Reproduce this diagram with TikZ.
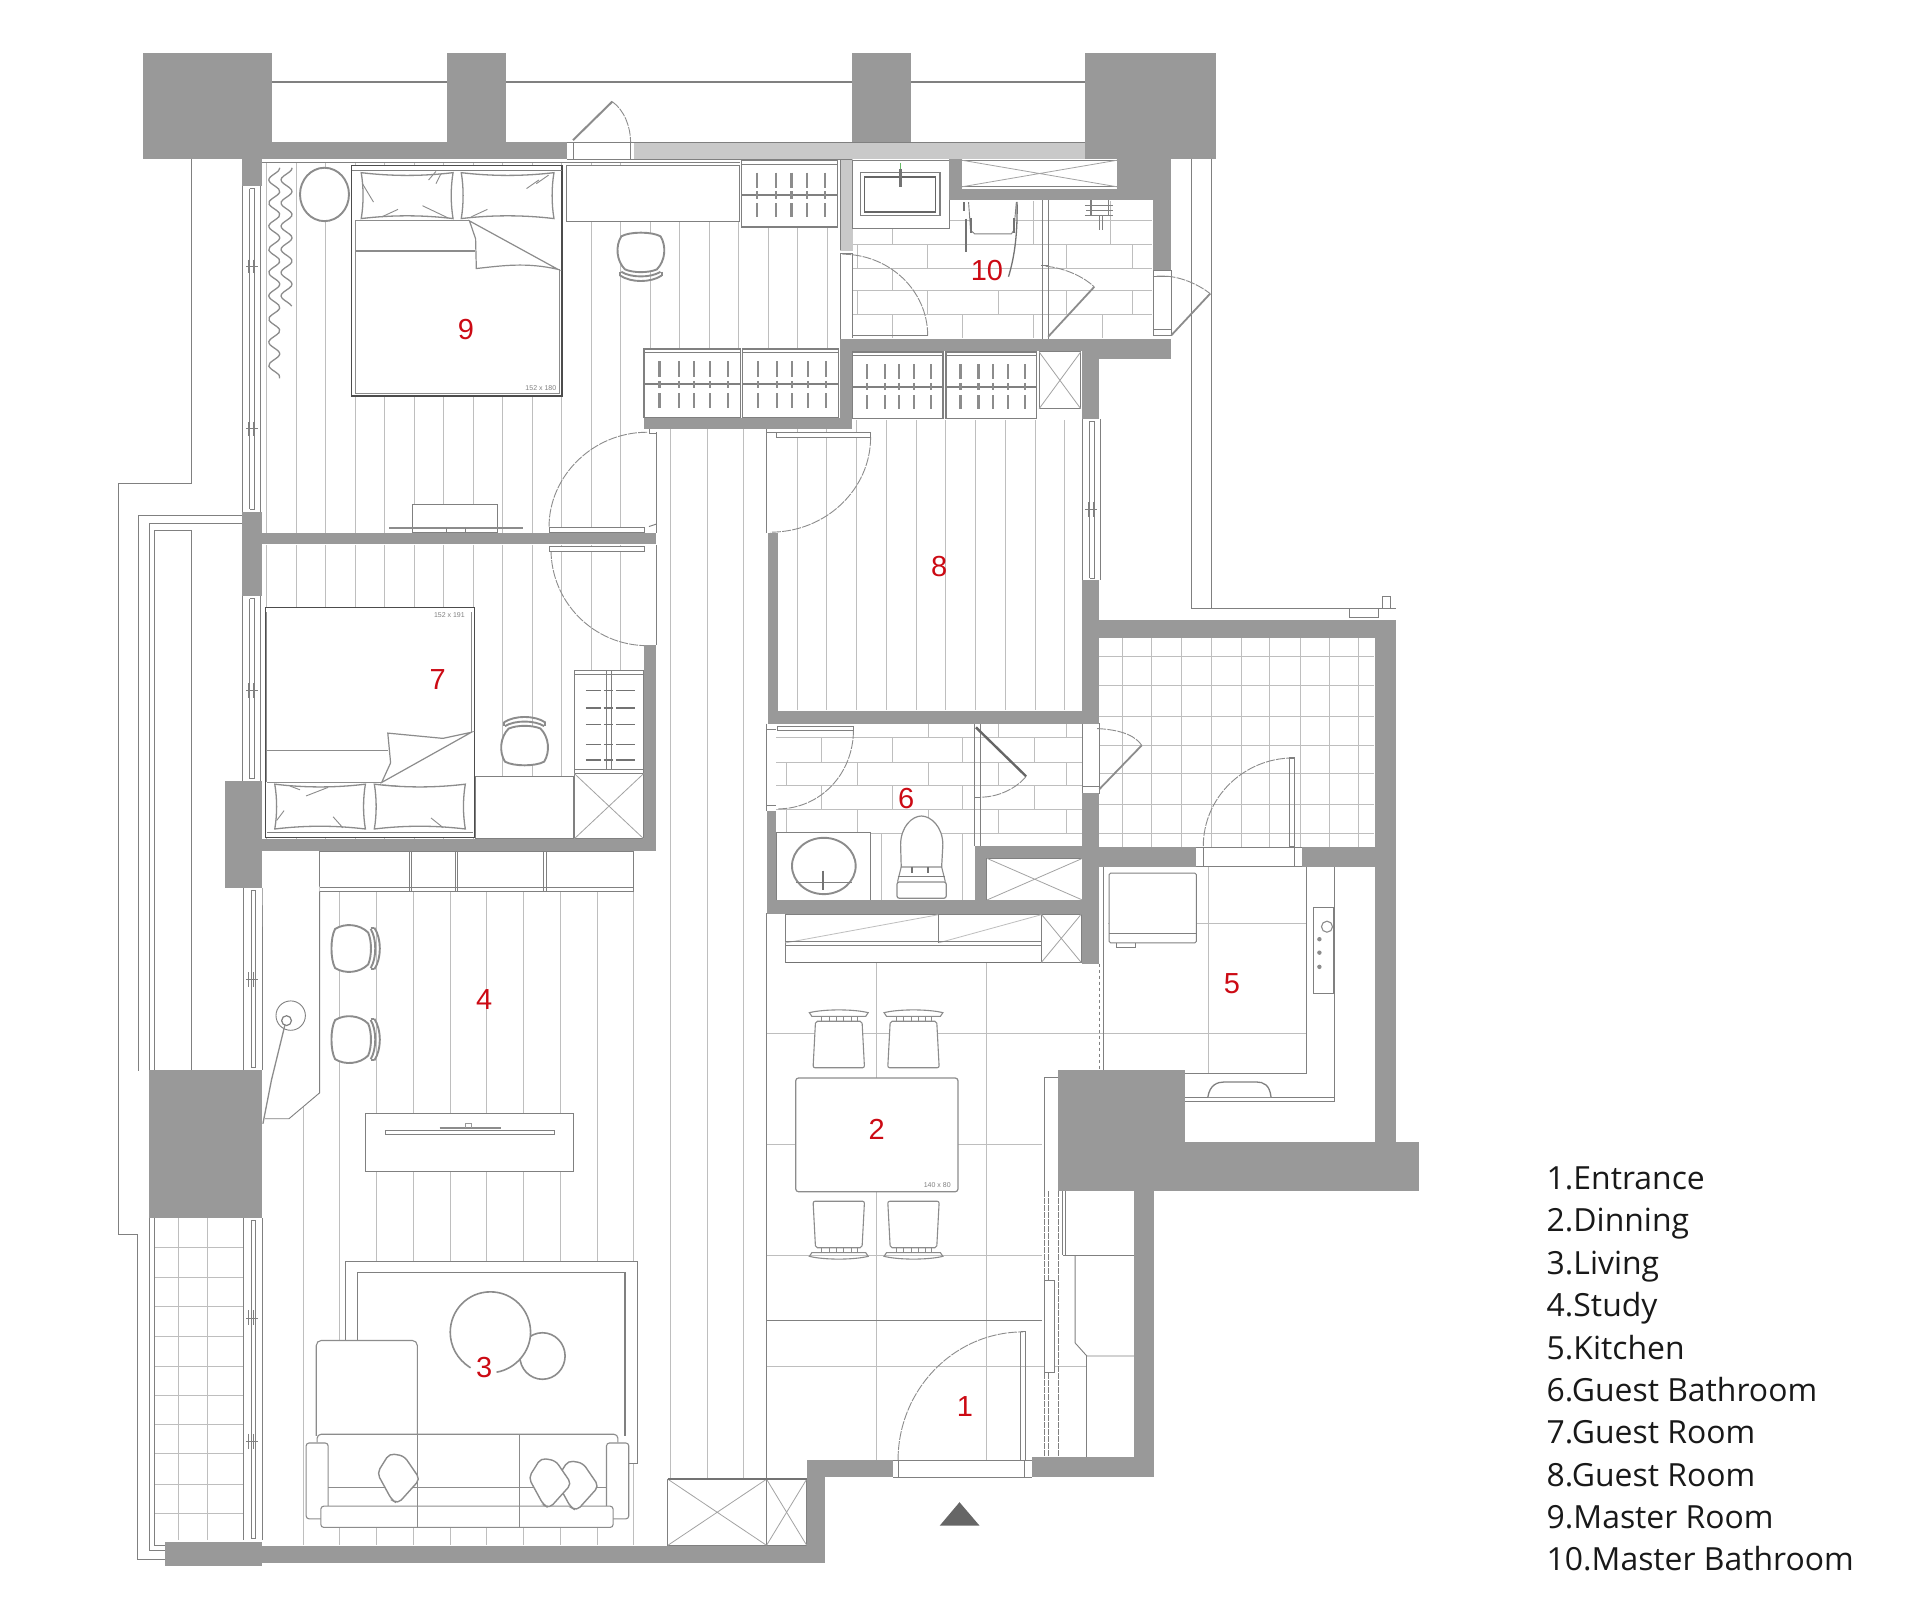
\documentclass[tikz,border=0pt]{standalone}
\usepackage{fontspec}
\setmainfont{Liberation Sans}
\newfontfamily\legendfont{Open Sans}
\definecolor{wallc}{HTML}{999999}
\definecolor{lightwall}{HTML}{C9C9C9}
\definecolor{lnc}{HTML}{808080}
\definecolor{flrc}{HTML}{BEBEBE}
\definecolor{furnc}{HTML}{8C8C8C}
\definecolor{numc}{HTML}{CC0A14}
\tikzset{
 wallfill/.style={fill=wallc},
 ln/.style={draw=lnc,line width=.9pt},
 dk/.style={draw=black!70,line width=1.1pt},
 thin2/.style={draw=lnc!80,line width=.7pt},
 flr/.style={draw=flrc,line width=.8pt},
 furn/.style={draw=furnc,line width=1.1pt},
 thick2/.style={draw=furnc,line width=1.9pt},
 xln/.style={draw=furnc!80,line width=.8pt},
 swingln/.style={draw=furnc,line width=.9pt,dash pattern=on 9pt off 1.2pt},
 hang/.style={draw=black!50,line width=2pt},
 barln/.style={draw=black!45,line width=2.2pt},
 num/.style={text=numc,font=\fontsize{29}{29}\selectfont,inner sep=0pt},
 legend/.style={anchor=base west,inner sep=0pt,text=black!90,font=\legendfont\fontsize{31.9}{35}\selectfont},
 tiny/.style={text=black!50,font=\fontsize{7}{7}\selectfont,inner sep=0pt},
 chairpic/.pic={
  \draw[thick2,fill=white] (-16,-14) .. controls (-9,-18) and (9,-18) .. (16,-14) .. controls (21,-6) and (20,6) .. (13,13) .. controls (6,16) and (-6,16) .. (-13,13) .. controls (-20,6) and (-21,-6) .. (-16,-14) -- cycle;
  \draw[thick2] (-16,15) .. controls (-8,20) and (8,20) .. (16,15);
  \draw[thick2] (-17,18) .. controls (-8,24) and (8,24) .. (17,18);
  \draw[thick2] (-17,15)--(-17,18) (17,15)--(17,18);
 },
 dinechair/.pic={
  \draw[furn,fill=white,rounded corners=2pt] (-19,-19) -- (19,-19) -- (21,19) -- (-21,19) -- cycle;
  \draw[furn] (-24,-26) .. controls (-12,-29) and (12,-29) .. (24,-26) -- (22,-23) -- (-22,-23) -- cycle;
  \foreach \q in {-14,-8,-2,4,10,15} {\draw[furn,line width=.8pt] (\q,-23) -- (\q,-18);}
 },
 sofapillow/.pic={
  \draw[thick2,line width=1.4pt,fill=white,rounded corners=5pt] (-17,-4) -- (-7,-20) -- (5,-18) -- (18,1) -- (0,21) -- (-5,18) -- cycle;
 }
}
\newcommand{\wallbox}[4]{\fill[wallfill] (#1,#2) rectangle (#3,#4);}
\newcommand{\xbox}[4]{\draw[ln,fill=white] (#1,#2) rectangle (#3,#4); \draw[xln] (#1,#2)--(#3,#4) (#1,#4)--(#3,#2);}
\newcommand{\wardrobe}[4]{%
 \draw[ln,fill=white,line width=1.3pt] (#1,#2) rectangle (#3,#4);
 \draw[ln] (#1,#2+3) -- (#3,#2+3);
 \pgfmathsetmacro{\wmid}{(#2+#4)/2+1}
 \draw[hang] (#1,\wmid)--(#3,\wmid);
 \foreach \wf in {.16,.36,.52,.68,.87} {
  \pgfmathsetmacro{\wxx}{#1+\wf*(#3-#1)}
  \draw[barln] (\wxx,#2+10)--(\wxx,\wmid-6) (\wxx,\wmid-3)--(\wxx,\wmid+3) (\wxx,\wmid+7)--(\wxx,#4-8);
 }}
\newcommand{\pillow}[4]{%
 \draw[thick2,line width=1.3pt,fill=white] (#1,#2) .. controls (#1+25,#2+3) and (#3-25,#2+3) .. (#3,#2) .. controls (#3-2,#2+12) and (#3-2,#4-12) .. (#3,#4) .. controls (#3-25,#4-3) and (#1+25,#4-3) .. (#1,#4) .. controls (#1+2,#4-12) and (#1+2,#2+12) .. (#1,#2) -- cycle;}
\begin{document}
\begin{tikzpicture}[x=1.2245pt,y=-1.2245pt]
\useasboundingbox (0,0) rectangle (1568,1318.1);
\fill[white] (0,0) rectangle (1568,1318.1);

% --- floor boards
\foreach \k in {0,...,12} {\draw[flr] ({217.7+24.1*\k},133)--({217.7+24.1*\k},435);
  \draw[flr] ({217.7+24.1*\k},445)--({217.7+24.1*\k},685);}
\foreach \k in {13,...,19} {\draw[flr] ({217.7+24.1*\k},181)--({217.7+24.1*\k},285);}
\foreach \k in {1,...,10} {\draw[flr] ({626.6+24.3*\k},343)--({626.6+24.3*\k},580);}
\draw[flr] (247.5,895)--(247.5,1262);
\foreach \k in {1,...,9} {\draw[flr] ({247.5+30*\k},728)--({247.5+30*\k},1262);}
\foreach \k in {10,11,12} {\draw[flr] ({247.5+30*\k},350)--({247.5+30*\k},1262);}
\draw[ln] (626,746)--(626,1262);

% --- tiles: dining / kitchen
\draw[flr] (715.4,786)--(715.4,1192) (805.5,786)--(805.5,1192) (626,843.7)--(1067,843.7)
 (626,934.7)--(851,934.7) (626,1025)--(851,1025) (626,1115.8)--(888,1115.8) (987,708)--(987,877) (905,754)--(1067,754);
\draw[ln] (626,1078)--(851,1078);
% --- tiles: balcony
\foreach \q in {917,940.4,964.5,989,1013.4,1037,1062,1085.5,1109} {\draw[flr] (\q,521)--(\q,692);}
\foreach \q in {536,560,585,608.7,632,657,681} {\draw[flr] (897,\q)--(1122,\q);}
% --- tiles: master bath
\foreach \q in {180,199.7,219.3,237,256.6} {\draw[flr] (696,\q)--(941,\q);}
\foreach \q/\ya/\yb in {729/180/199.7,844/164/199.7,757.6/199.7/219.3,907/164/199.7,871/199.7/219.3,925/199.7/219.3,729/219.3/237,757.6/237/256.6,815/237/256.6,871/237/256.6,925/237/256.6,729/256.6/276,786/256.6/276,844/256.6/276,900/256.6/276,700/237/256.6,700/199.7/219.3} {\draw[flr] (\q,\ya)--(\q,\yb);}
% --- tiles: guest bath
\foreach \q in {602.3,622.7,641.6,661,681} {\draw[flr] (634,\q)--(884,\q);}
\foreach \q/\ya/\yb in {671/602.3/622.7,729/602.3/622.7,786/602.3/622.7,845/602.3/622.7,642/622.7/641.6,700/622.7/641.6,758/622.7/641.6,815/622.7/641.6,871/622.7/641.6,671/641.6/661,729/641.6/661,786/641.6/661,845/641.6/661,642/661/681,700/661/681,758/661/681,815/661/681,871/661/681,758/591/602.3,815/591/602.3,871/591/602.3,720/681/735,786/681/735} {\draw[flr] (\q,\ya)--(\q,\yb);}
% --- tiles: service balcony lower left
\foreach \q in {1018.7,1043,1067,1091,1116,1139.5,1163.5,1187,1212,1236} {\draw[flr] (126,\q)--(199,\q);}
\draw[flr] (145.3,995)--(145.3,1258) (169.6,995)--(169.6,1258);

% --- outer balcony outlines
\draw[ln] (156.7,130)--(156.7,395)--(96.7,395)--(96.7,1008)--(112,1008);
\draw[ln] (112,1008)--(112,1273.6)--(135,1273.6);
\draw[ln] (198,421)--(113.4,421)--(113.4,875);
\draw[ln] (198,427.6)--(121.7,427.6)--(121.7,875);
\draw[ln] (156.7,875)--(156.7,433.4)--(126,433.4)--(126,875);
\draw[ln] (122,995)--(122,1266)--(135,1266);
\draw[ln] (126,995)--(126,1262)--(135,1262);
% --- railing at the top
\draw[lnc,line width=2pt] (222,66.7)--(365,66.7) (413,66.7)--(696,66.7) (744,66.7)--(886,66.7);
\draw[ln] (213,133)--(604,133);
% --- right side parallel lines
\draw[ln] (972.6,130)--(972.6,497.3)--(1102,497.3);
\draw[ln] (989.3,130)--(989.3,497.3);
\draw[ln] (1102,497.3)--(1102,504.6) (1125.6,497.3)--(1125.6,504.6) (1102,504.6)--(1125.6,504.6);
\draw[ln] (1102,497.3)--(1140,497.3);
\draw[ln] (1129,497.3)--(1129,487)--(1135.8,487)--(1135.8,497.3);

% --- windows
\newcommand{\winV}[3]{%
 \draw[ln] (#1,#2)--(#1,#3) (#1+15,#2)--(#1+15,#3) (#1+6,#2+2)--(#1+6,#3-2) (#1+10,#2+2)--(#1+10,#3-2) (#1+6,#2+2)--(#1+10,#2+2) (#1+6,#3-2)--(#1+10,#3-2);}
\winV{198}{152}{418}
\draw[ln] (201,217.4)--(211,217.4) (201,350)--(211,350);
\draw[ln] (203,212)--(203,223) (207,212)--(207,223) (203,345)--(203,356) (207,345)--(207,356);
\winV{198}{487}{638}
\draw[ln] (201,564)--(211,564) (203,558)--(203,570) (207,558)--(207,570);
\winV{199}{725}{874}
\draw[ln] (201,800)--(211,800) (203,794)--(203,806) (207,794)--(207,806);
\winV{199}{995}{1258}
\draw[ln] (201,1076.4)--(211,1076.4) (201,1177)--(211,1177) (203,1070)--(203,1082) (207,1070)--(207,1082) (203,1171)--(203,1183) (207,1171)--(207,1183);
\winV{884}{342}{474}
\draw[ln] (886,416)--(896,416) (889,410)--(889,422) (893,410)--(893,422);

% --- master room furniture
\foreach \colx/\yend in {224/309,234/250} {
 \draw[furn,line width=1.3pt] plot[smooth,samples=70,domain=137:\yend] ({\colx+4.5*sin(\x*19)},\x);}
\draw[thick2,fill=white] (265,158.8) ellipse (20 and 21.8);
\draw[dk,fill=white] (287.4,134.9) rectangle (459,323.4);
\draw[ln] (287.4,139) -- (459,139);
\draw[furn] (290,180)--(290,321.5)--(456.7,321.5)--(456.7,220);
\draw[furn] (290,180)--(383.4,180);
\draw[furn] (290,205)--(388,205);
\pillow{295}{141}{370}{178.5}
\pillow{376.7}{141}{452.4}{178.5}
\draw[furn,line width=.9pt] (350,147)--(356,140) (356,150)--(360,142) (296,150)--(305,165) (345,168)--(366,178) (312,177)--(325,171) (440,147)--(430,154) (448,143)--(438,150) (385,177)--(398,171);
\draw[thick2,fill=white,line width=1.2pt] (383.4,180.4)--(388.4,195)--(389,219.3) .. controls (410,217) and (430,214) .. (455.7,220)--cycle;
\node[tiny] (bedsizeA) at (441.7,317) {152 x 180};
\draw[ln,fill=white] (462.7,135) rectangle (604,181);
\pic at (523.4,207) {chairpic};
\wardrobe{605.5}{131}{684}{185.3}
\draw[lightwall,fill=lightwall] (686,130) rectangle (696,204.3);
\draw[ln] (686,130)--(686,204.3);
% TV desk in master room
\draw[ln,fill=white] (337,412) rectangle (406,435);
\draw[thick2,line width=2pt] (318,431)--(427,431);
\draw[ln] (365,431)--(365,435) (380,431)--(380,435);
% door room 9
\draw[swingln] (528.4,353) .. controls (484,353) and (448.4,389) .. (448.4,430);
\draw[ln,fill=white] (448.4,430.5) rectangle (526,435);
\draw[ln] (535.7,353)--(535.7,435) (530,350)--(530,354)--(535.7,354);
\draw[ln] (530,430)--(536,428);

% --- wardrobes master row
\wardrobe{526}{285}{605}{341}
\wardrobe{606.5}{285}{684.5}{341}
\wardrobe{696}{287.4}{770}{342}
\wardrobe{772.5}{287.4}{846.6}{342}
\xbox{848.6}{287.4}{882.6}{333.8}

% --- guest room 7 furniture
\draw[dk,fill=white] (216.7,496) rectangle (387.7,684);
\draw[furn] (218,612.7)--(316.7,612.7) (218,639)--(311.7,639) (218,500)--(218,639) (385,500)--(385,598);
\draw[thick2,fill=white,line width=1.2pt] (311.7,639)--(385,598)--(361.7,603)--(316.7,598.7)--(319,623)--cycle;
\draw[ln] (218,680)--(386,680);
\pillow{224.4}{640.4}{298.4}{677}
\pillow{305.7}{640.4}{380}{677}
\draw[furn,line width=.9pt] (237,642)--(245,645) (250,650)--(268,643) (226,670)--(232,662) (272,667)--(280,676) (325,642)--(312,641) (352,668)--(362,676);
\node[tiny] (bedsizeB) at (367,502) {152 x 191};
\draw[ln,fill=white] (388.4,633.7) rectangle (468.4,685);
\pic[rotate=180] at (428.4,608) {chairpic};
\draw[ln,fill=white] (469,547.7) rectangle (525.7,631.7);
\draw[ln] (469,551)--(525.7,551) (469,628)--(525.7,628);
\draw[ln] (495.6,548)--(495.6,628) (499,548)--(499,628);
\foreach \q/\wd in {564/1.1,578/1.9,591.5/1.1,608/1.1,620.6/1.9} {
 \draw[draw=black!55,line width=\wd pt] (478.4,\q)--(491,\q) (493,\q)--(501,\q) (503,\q)--(518.4,\q);}
\xbox{469}{631.7}{525.7}{685}
% door room 7
\draw[swingln] (450,449) .. controls (450,491) and (484,527) .. (528.4,527.3);
\draw[ln,fill=white] (448.4,446) rectangle (526,450.5);
\draw[ln] (535.7,445)--(535.7,527);

% --- study and living furniture
\draw[ln,fill=white] (261,695) rectangle (517.7,728);
\draw[ln] (334,695)--(334,728) (336,695)--(336,728) (371.7,695)--(371.7,728) (373.5,695)--(373.5,728) (444,695)--(444,728) (446,695)--(446,728) (261,725)--(517.7,725);
\fill[white] (214.4,724)--(261,724)--(261,892.5)--(236,913.6)--(216.6,913.6)--cycle;
\draw[ln] (261,728)--(261,892.5)--(236,913.6)--(216.6,913.6);
\pic[rotate=90] at (287.7,774.6) {chairpic};
\pic[rotate=90] at (287.7,849) {chairpic};
\draw[ln] (237.4,829.4) circle (12);
\draw[ln,line width=1.2pt] (234,833.5) circle (4);
\draw[furn,line width=1.3pt] (232.7,837)--(221.7,882)--(214.7,917.8);
\draw[ln,fill=white] (298.7,909.4) rectangle (468.4,956.7);
\draw[ln,fill=white] (315,923) rectangle (452.6,926.3);
\draw[thick2] (359,921.5)--(409,921.5);
\draw[thin2] (380,921)--(380,917)--(385,917)--(385,921);
\draw[ln,fill=white] (282,1195)--(282,1030.5)--(520.4,1030.5)--(520.4,1195)--cycle;
\draw[ln,line width=1.2pt] (291.8,1173)--(291.8,1039)--(510.4,1039)--(510.4,1173);
% coffee tables: small one first, the large one lies over it
\draw[thick2,line width=1.6pt] (443,1107.4) ellipse (18.5 and 19);
\fill[white] (400.5,1088) ellipse (32.8 and 33);
\draw[thick2,line width=1.6pt] (384.3,1117) .. controls (373,1110) and (367.7,1099) .. (367.7,1088) .. controls (367.7,1070) and (382,1055) .. (400.5,1055) .. controls (419,1055) and (433.3,1070) .. (433.3,1088) .. controls (433.3,1104) and (421,1118) .. (405.5,1120.6);
\draw[furn,fill=white,rounded corners=5pt] (258.3,1172.7)--(258.3,1094.7)--(340.8,1094.7)--(340.8,1172.7);
\draw[furn,fill=white,rounded corners=4pt] (259,1178)--(259,1171.3)--(504.6,1171.3)--(504.6,1178);
\fill[white] (268,1173)--(495,1173)--(495,1230)--(268,1230)--cycle;
\draw[furn] (340.8,1171.3)--(340.8,1247) (424,1171.3)--(424,1247);
\draw[furn] (268,1215)--(495,1215);
\draw[furn,fill=white,rounded corners=3pt] (250,1178.4) rectangle (268,1240.4);
\draw[furn,fill=white,rounded corners=3pt] (495.3,1178.4) rectangle (513.5,1240.4);
\draw[furn,fill=white,rounded corners=3pt] (262,1230) rectangle (500.7,1247.4);
\draw[furn] (340.8,1230)--(340.8,1247.4) (424,1230)--(424,1247.4);
\pic at (471,1212.8) {sofapillow};
\pic at (448.7,1210.8) {sofapillow};
\pic at (325,1207) {sofapillow};
% storage bottom
\xbox{545.4}{1208}{626}{1262}
\xbox{626}{1208}{658.8}{1262}
\draw[draw=black!55,line width=1.6pt] (545.4,1208)--(658.8,1208);

% --- room 8 door
\draw[swingln] (711,357) .. controls (711,400) and (674,434.6) .. (629.3,434.6);
\draw[ln,fill=white] (634,353) rectangle (711,357);
\draw[ln] (626,350)--(626,435);
\draw[ln] (626,353)--(634,353);

% --- master bath
\draw[ln,fill=white] (696,130.8) rectangle (775,186.6);
\draw[ln,line width=1.2pt] (702.6,141) rectangle (767.6,175.7);
\draw[draw=black!60,line width=1.5pt] (706,144.4) rectangle (764,173);
\draw[draw=green!55!black!60,line width=1.5pt] (735.3,133)--(735.3,138);
\draw[draw=black!55,line width=2.4pt] (735.3,138)--(735.3,152.6);
\xbox{785.3}{130.8}{912.6}{152.6}
\draw[swingln] (688,207.6) .. controls (726,207.6) and (757.6,237) .. (757.6,274);
\draw[ln] (686,207)--(686,280) (696,207)--(696,276) (686,207)--(696,207);
\draw[ln] (696,274)--(757.6,274);
\draw[ln,fill=white] (791,165)--(792.6,188)--(796,191)--(826,191)--(828,188)--(830,165);
\draw[draw=black!55,line width=2.2pt] (789,178.5)--(789,205.7);
\draw[draw=black!55,line width=2pt] (787,165)--(787,172) (792.6,178)--(792.6,190) (828,178)--(828,190);
\draw[draw=black!55,line width=1.3pt] (830.6,164.8) .. controls (831,190) and (829,208) .. (823.6,226);
\draw[ln] (851.6,163.5)--(851.6,276.5) (856,163.5)--(856,276.5);
\draw[ln] (850,217)--(857,217);
\draw[swingln] (854,217.4) .. controls (870,219) and (885,226) .. (893.6,234.3);
\draw[furn,line width=1.8pt] (856,275)--(893.6,234.3);
\draw[ln,line width=1.1pt] (886,168)--(909,168) (887,172)--(909,172) (886,176)--(909,176) (897.6,176)--(897.6,188) (900,176)--(900,188) (891,163)--(891,176) (905,163)--(905,176);
% balcony door master bath
\draw[ln,fill=white] (941.6,220.7) rectangle (956.6,274);
\draw[ln] (941.6,226)--(956.6,226) (941.6,269)--(956.6,269);
\draw[swingln] (944.3,225.6) .. controls (960,224) and (977,231) .. (988.3,239.8);
\draw[furn,line width=1.8pt] (956.6,273.8)--(988.3,239.8);

% --- guest bath
\draw[ln,fill=white] (634,679.5) rectangle (711,735);
\draw[thick2] (672.8,707.2) ellipse (26 and 23);
\draw[ln] (650,721)--(696,721);
\draw[draw=black!55,line width=2.4pt] (672,711)--(672,727);
\draw[furn,line width=1.2pt,fill=white] (736,708)--(735.5,690) .. controls (735.5,675) and (745,666.4) .. (752.5,666.4) .. controls (760,666.4) and (770,675) .. (770,690)--(769,708)--cycle;
\draw[furn] (733,720)--(736,708) (772,720)--(769,708);
\draw[furn,line width=1.2pt,fill=white,rounded corners=2pt] (732.6,720.3) rectangle (772.7,733.5);
\draw[draw=black!55,line width=1.8pt] (745,708)--(745,713) (758,708)--(758,713);
\draw[ln] (733,716)--(772,716);
\draw[ln,line width=1.2pt] (796,591)--(796,691) (800.5,591)--(800.5,691);
\draw[swingln] (697,596) .. controls (697,632) and (670,660.6) .. (635,660.6);
\draw[ln,fill=white] (634.6,593.5) rectangle (697,596.4);
\draw[ln] (626,591)--(626,662) (626,596)--(634,596) (626,658)--(634,658);
\draw[swingln] (838,634) .. controls (830,644) and (815,651) .. (801,651);
\draw[draw=black!60,line width=2.4pt] (797,594)--(838,634);
\draw[ln] (796,651)--(801,651);
\xbox{806}{701}{884}{735}
% balcony door guest bath
\draw[ln,fill=white] (884,591) rectangle (897.5,648);
\draw[ln] (884,642)--(897.5,642);
\draw[swingln] (896,595) .. controls (918,596) and (928,602) .. (932.4,608.7);
\draw[furn,line width=1.8pt] (897.8,644.5)--(932.4,608.7);

% --- cabinet under guest bath
\draw[ln,fill=white] (641.5,746.6) rectangle (850.4,786);
\draw[flr] (641.5,770)--(766.5,747) (766.5,770)--(850.4,747);
\draw[ln] (766.5,746.6)--(766.5,770) (641.5,769)--(850.4,769) (641.5,772)--(850.4,772);
\draw[draw=black!55,line width=1.3pt] (641.5,786)--(850.4,786);
\xbox{850.4}{746.6}{883}{786}

% --- kitchen
\draw[ln] (901.4,707.8)--(901.4,875);
\draw[ln,dashed] (897.7,787)--(897.7,875);
\draw[ln] (1067,707.8)--(1067,877)--(968,877);
\draw[ln,line width=1.3pt] (1090,707.8)--(1090,899.5)--(968,899.5);
\draw[ln] (968,896)--(1090,896);
\draw[ln,fill=white,rounded corners=1.5pt] (905.8,713) rectangle (977,770);
\draw[ln] (905.8,762.6)--(977,762.6);
\draw[ln,line width=1.2pt] (912,774)--(912,770) (927,774)--(927,770) (912,774)--(927,774);
\draw[ln,fill=white] (1072.8,740.7) rectangle (1089,811.6);
\draw[furn] (1083.7,756.8) circle (4.5);
\foreach \q in {767,778,789.6} {\fill[furnc] (1077.5,\q) circle (1.8);}
\draw[ln,line width=1.3pt,fill=white] (986.4,896) .. controls (988,886) and (994,883.6) .. (1000,883.6)--(1026,883.6) .. controls (1032,883.6) and (1037,886) .. (1038,896);
% kitchen door
\draw[swingln] (982.7,691) .. controls (982.7,651) and (1016,619) .. (1056,619);
\draw[ln,line width=1.1pt] (1053,619) rectangle (1057,691);
\draw[ln] (977,692)--(1063.6,692) (977,707.8)--(1063.6,707.8) (982.7,692)--(982.7,707.8) (1057,692)--(1057,707.8);

% --- dining
\draw[furn,line width=1.2pt,fill=white,rounded corners=3pt] (649.8,880.3) rectangle (782.4,973.3);
\node[tiny] (tablesize) at (765.4,967.7) {140 x 80};
\pic at (685,853) {dinechair};
\pic at (746,853) {dinechair};
\pic[yscale=-1] at (685,1000) {dinechair};
\pic[yscale=-1] at (746,1000) {dinechair};

% --- entrance
\draw[swingln] (733.4,1192.5) .. controls (733.4,1135) and (779,1087.7) .. (835.6,1087.7);
\draw[ln] (833.7,1087.7)--(833.7,1192.5) (837.5,1087.7)--(837.5,1192.5) (833.7,1087.7)--(837.5,1087.7);
\draw[ln] (729.6,1192.5)--(842.5,1192.5) (729.6,1206.5)--(842.5,1206.5) (733.4,1192.5)--(733.4,1206.5) (837,1192.5)--(837,1206.5);
\draw[draw=black!50,line width=1.2pt,dash pattern=on 6pt off 1pt] (853,973)--(853,1190);
\draw[ln,dash pattern=on 6pt off 1pt] (856.5,973)--(856.5,1190);
\draw[ln,dash pattern=on 6pt off 1pt] (864.5,973)--(864.5,1190);
\draw[ln,fill=white] (853,1046) rectangle (861.4,1120.6);
\draw[ln] (853,879.8)--(853,973) (853,879.8)--(863.7,879.8);
\draw[ln] (868,973)--(868,1025) (870.5,973)--(870.5,1025) (868,1025)--(926,1025);
\draw[ln] (878,1025)--(878,1096.7)--(887.6,1107.4)--(926,1107.4);
\draw[ln] (887.6,1107.4)--(887.6,1190);

% --- walls
\wallbox{117}{43}{222}{130}
\wallbox{365}{43}{413}{116}
\wallbox{696}{43}{744}{116}
\wallbox{886}{43}{993}{130}
\wallbox{222}{116}{463}{130}
\fill[lightwall] (518,116) rectangle (886,130);
\draw[ln] (518,116)--(886,116);
\draw[ln] (518,130)--(696,130);
\draw[ln] (463,116)--(518,116) (463,130)--(518,130) (468,116)--(468,130) (515,116)--(515,130);
\draw[swingln] (500,83) .. controls (510,90) and (515,104) .. (515,116);
\draw[thick2,line width=2pt] (468,114.4)--(500,83);
\wallbox{198}{130}{214}{152}
\wallbox{198}{418}{214}{487}
\wallbox{198}{435.5}{536}{444.5}
\wallbox{184}{638}{214}{725}
\wallbox{214}{685}{536}{695}
\wallbox{526}{527}{536}{695}
\wallbox{526}{341}{696}{350}
\wallbox{686}{277}{696}{350}
\wallbox{686}{277}{956.6}{287}
\wallbox{884}{277}{956.6}{293}
\wallbox{884}{277}{897.6}{342}
\wallbox{775}{130}{785.3}{163.5}
\wallbox{775}{154}{942.6}{163.5}
\wallbox{912.6}{130}{942.6}{154}
\wallbox{941.6}{130}{956.6}{220.7}
\wallbox{884}{474}{897.8}{591}
\wallbox{884}{648}{897.8}{787.4}
\wallbox{627}{435}{635}{591}
\wallbox{627}{581}{897.8}{591.5}
\wallbox{626}{662}{634}{746.6}
\wallbox{626}{735}{884}{746.6}
\wallbox{796}{691}{805.5}{735}
\wallbox{796}{691}{884}{700.5}
\wallbox{897.8}{506.6}{1140}{521}
\wallbox{1122.7}{521}{1140}{933}
\wallbox{897.8}{691.8}{977}{707.8}
\wallbox{1063.6}{691.8}{1122.7}{707.8}
\wallbox{863.7}{874}{967.8}{973}
\wallbox{967.8}{933}{1158.7}{973}
\wallbox{926}{973}{942.4}{1206.5}
\wallbox{842.5}{1189.6}{942.4}{1206.5}
\wallbox{659.4}{1192.5}{729.6}{1206.5}
\wallbox{659.4}{1192.5}{673.7}{1276.4}
\wallbox{214}{1262.6}{673.7}{1276.4}
\wallbox{135}{1259.5}{214}{1279}
\wallbox{122}{874}{214}{995}

% --- entrance arrow
\fill[black!60] (783.6,1226.8)--(800,1246)--(767.4,1246)--cycle;

% --- room numbers
\node[num] (n1) at (788,1149) {1};
\node[num] (n2) at (716,922) {2};
\node[num] (n3) at (395.5,1117) {3};
\node[num] (n4) at (395.5,816) {4};
\node[num] (n5) at (1006,803) {5};
\node[num] (n6) at (740,652) {6};
\node[num] (n7) at (357.5,555) {7};
\node[num] (n8) at (767,463) {8};
\node[num] (n9) at (380.5,269) {9};
\node[num] (n10) at (806,221) {10};

% --- legend
\node[legend] (l1) at (1263,971.5) {1.Entrance};
\node[legend] (l2) at (1263,1006.1) {2.Dinning};
\node[legend] (l3) at (1263,1040.7) {3.Living};
\node[legend] (l4) at (1263,1075.3) {4.Study};
\node[legend] (l5) at (1263,1109.9) {5.Kitchen};
\node[legend] (l6) at (1263,1144.5) {6.Guest Bathroom};
\node[legend] (l7) at (1263,1179.1) {7.Guest Room};
\node[legend] (l8) at (1263,1213.7) {8.Guest Room};
\node[legend] (l9) at (1263,1248.3) {9.Master Room};
\node[legend] (l10) at (1263,1282.9) {10.Master Bathroom};
\end{tikzpicture}
\end{document}
